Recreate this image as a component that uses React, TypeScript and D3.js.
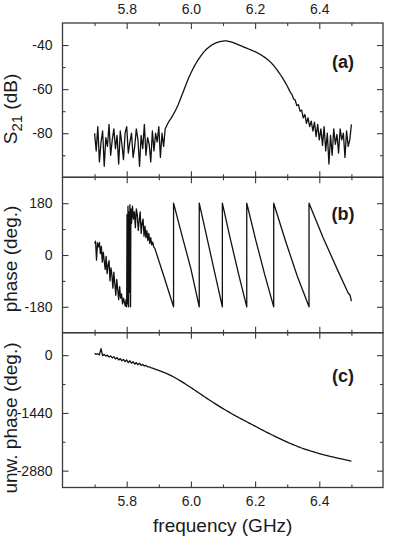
import { useRef, useEffect } from "react";
import * as d3 from "d3";

const width = 396;
const height = 540;
const FONT = "'Liberation Sans', Arial, Helvetica, sans-serif";
const INK = "#1a1a1a";
const FRAME = "#3a3a3a";

// panels (a) and (c) are sampled on a 5 MHz grid, 5.700 ... 6.500 GHz
const F_START = 5.7;
const F_STEP = 0.005;

// (a) S21 in dB
const s21 = [
  -80, -88, -77, -93, -84, -79, -95, -82, -86, -76,
  -90, -83, -78, -87, -81, -94, -79, -85, -92, -80,
  -77, -89, -84, -80, -91, -86, -78, -83, -95, -81,
  -87, -76, -90, -82, -85, -93, -79, -88, -80, -84,
  -77, -91, -80, -86, -78, -76.5, -75, -74, -72.8, -71.5,
  -70.2, -68.8, -67.2, -65.4, -63.5, -61.6, -59.7, -57.8, -56, -54.3,
  -52.7, -51.2, -49.8, -48.5, -47.3, -46.2, -45.1, -44.1, -43.2, -42.4,
  -41.7, -41.1, -40.5, -40, -39.6, -39.2, -38.9, -38.7, -38.5, -38.3,
  -38.2, -38.1, -38.1, -38.2, -38.4, -38.6, -38.8, -39.1, -39.4, -39.7,
  -40, -40.3, -40.6, -40.9, -41.2, -41.5, -41.8, -42.1, -42.4, -42.7,
  -43, -43.4, -43.8, -44.2, -44.6, -45.1, -45.6, -46.1, -46.7, -47.3,
  -48, -48.8, -49.7, -50.6, -51.6, -52.6, -53.7, -54.8, -56, -57.3,
  -58.6, -60, -61.5, -62.5, -64.5, -65, -67.5, -67, -70, -69.5,
  -73, -71.5, -75.5, -73, -77, -74.5, -79, -75, -81.5, -76,
  -83, -78, -85.5, -77, -88, -80, -94, -81, -90, -78,
  -85, -80.5, -89, -78, -83, -80, -91, -79, -86, -83,
  -76,
];

// (c) unwrapped phase in degrees
const unwrapped = [
  45, 20, 35, 5, 165, -10, 20, -25, 0, -45,
  -20, -70, -40, -95, -60, -120, -85, -140, -105, -160,
  -120, -185, -140, -200, -165, -225, -185, -240, -200, -255,
  -230, -270, -255, -290, -290, -310, -324, -338, -352, -366,
  -380, -396, -412, -428, -444, -460, -478, -497, -517, -538,
  -560, -583, -606, -630, -654, -679, -704, -730, -756, -782,
  -808, -834, -861, -888, -915, -942, -969, -996, -1023, -1050,
  -1077, -1104, -1130, -1156, -1182, -1208, -1233, -1258, -1283, -1308,
  -1332, -1356, -1380, -1403, -1426, -1449, -1472, -1494, -1516, -1538,
  -1560, -1582, -1603, -1624, -1645, -1666, -1687, -1708, -1729, -1750,
  -1771, -1792, -1813, -1834, -1855, -1876, -1897, -1918, -1938, -1958,
  -1978, -1998, -2018, -2038, -2057, -2076, -2095, -2114, -2132, -2150,
  -2168, -2186, -2203, -2220, -2237, -2253, -2269, -2285, -2300, -2315,
  -2329, -2343, -2357, -2370, -2383, -2396, -2408, -2420, -2432, -2443,
  -2454, -2465, -2476, -2486, -2496, -2506, -2516, -2526, -2535, -2544,
  -2553, -2562, -2571, -2580, -2589, -2598, -2607, -2616, -2625, -2634,
  -2645,
];

// (b) wrapped phase: noisy start, then the sawtooth
const phaseFreq = [
  5.700, 5.703, 5.706, 5.709, 5.712, 5.715, 5.718, 5.721, 5.724, 5.727,
  5.730, 5.733, 5.736, 5.739, 5.742, 5.745, 5.748, 5.751, 5.754, 5.757,
  5.760, 5.763, 5.766, 5.769, 5.772, 5.775, 5.778, 5.781, 5.784, 5.787,
  5.790, 5.793, 5.796, 5.798, 5.800, 5.801, 5.803, 5.804, 5.806, 5.807,
  5.809, 5.810, 5.812, 5.813, 5.815, 5.818, 5.821, 5.824, 5.827, 5.830,
  5.833, 5.836, 5.839, 5.842, 5.845, 5.848, 5.851, 5.854, 5.857, 5.860,
  5.863, 5.866, 5.869, 5.872, 5.875, 5.878, 5.881, 5.884, 5.888,
  5.917, 5.946, 5.946, 5.973, 6.000, 6.026, 6.026, 6.050, 6.074, 6.098,
  6.098, 6.123, 6.149, 6.174, 6.174, 6.202, 6.230, 6.258, 6.258, 6.295,
  6.331, 6.368, 6.368, 6.412, 6.456, 6.490, 6.496, 6.500,
];
const phaseDeg = [
  40, 48, -18, 42, 28, 44, 5, 30, -25, 10,
  -20, -50, -5, -65, -35, -20, -90, -45, -70, -115,
  -60, -100, -140, -85, -120, -155, -110, -150, -135, -170,
  -150, -165, -178, -155, -180, 140, -170, 170, -180, 150,
  -130, 175, -180, 160, 110, 170, 125, 150, 95, 160,
  140, 85, 120, 150, 75, 110, 125, 65, 100, 60,
  85, 50, 75, 40, 60, 35, 45, 28, 22,
  -78, -180, 180, 65, -48, -180, 180, 60, -60, -180,
  180, 55, -68, -180, 180, 52, -68, -180, 180, 48,
  -72, -180, 180, 60, -50, -132, -140, -160,
];

const freqMajor = [5.8, 6.0, 6.2, 6.4];
const freqMinor = [5.7, 5.9, 6.1, 6.3, 6.5];
const s21Major = [-40, -60, -80];
const s21Minor = [-50, -70, -90];
const phaseMajor = [180, 0, -180];
const phaseMinor = [90, -90];
const unwMajor = [0, -1440, -2880];
const unwMinor = [-720, -2160];

const gridFreq = s21.map((_, i) => F_START + i * F_STEP);

export default function App() {
  const ref = useRef<SVGSVGElement | null>(null);

  useEffect(() => {
    const svg = d3
      .select(ref.current)
      .attr("width", width)
      .attr("height", height)
      .attr("viewBox", `0 0 ${width} ${height}`);

    svg.selectAll("*").remove();

    const left = 62.5;
    const right = 383;
    const x = d3.scaleLinear().domain([5.6, 6.6]).range([left, 383.5]);

    const panels = [
      {
        top: 23, bottom: 177.3, domain: [-100, -30],
        major: s21Major, minor: s21Minor,
        pts: gridFreq.map((f, i) => [f, s21[i]]),
        tag: "(a)", tagY: 68,
        title: "S", sub: "21", rest: " (dB)", titleY: 109,
      },
      {
        top: 177.3, bottom: 332.7, domain: [-270, 270],
        major: phaseMajor, minor: phaseMinor,
        pts: phaseFreq.map((f, i) => [f, phaseDeg[i]]),
        tag: "(b)", tagY: 220,
        title: "phase (deg.)", titleY: 259,
      },
      {
        top: 332.7, bottom: 487.5, domain: [-3300, 560],
        major: unwMajor, minor: unwMinor,
        pts: gridFreq.map((f, i) => [f, unwrapped[i]]),
        tag: "(c)", tagY: 382,
        title: "unw. phase (deg.)", titleY: 418,
      },
    ];

    const styleAxis = (g: any) => {
      g.select(".domain").remove();
      g.selectAll(".tick line").attr("stroke", FRAME).attr("stroke-width", 1.1);
      g.selectAll(".tick text")
        .attr("fill", INK)
        .style("font-family", FONT)
        .style("font-size", "14px");
    };

    panels.forEach((p, k) => {
      const y = d3.scaleLinear().domain(p.domain).range([p.bottom, p.top]);
      const g = svg.append("g");

      // left axis with labels
      g.append("g")
        .attr("transform", `translate(${left},0)`)
        .call(d3.axisLeft(y).tickValues(p.major).tickSize(-6).tickPadding(10).tickFormat((d: any) => String(d)))
        .call(styleAxis);
      g.append("g")
        .attr("transform", `translate(${left},0)`)
        .call(d3.axisLeft(y).tickValues(p.minor).tickSize(-3).tickFormat(() => ""))
        .call(styleAxis);
      // right mirror
      g.append("g")
        .attr("transform", `translate(${right},0)`)
        .call(d3.axisRight(y).tickValues(p.major).tickSize(-6).tickFormat(() => ""))
        .call(styleAxis);
      g.append("g")
        .attr("transform", `translate(${right},0)`)
        .call(d3.axisRight(y).tickValues(p.minor).tickSize(-3).tickFormat(() => ""))
        .call(styleAxis);

      // top and bottom frequency ticks
      g.append("g")
        .attr("transform", `translate(0,${p.top})`)
        .call(
          d3.axisTop(x).tickValues(freqMajor).tickSize(-6).tickPadding(k === 0 ? 9.5 : 0)
            .tickFormat((d: any) => (k === 0 ? d3.format(".1f")(d) : ""))
        )
        .call(styleAxis);
      g.append("g")
        .attr("transform", `translate(0,${p.top})`)
        .call(d3.axisTop(x).tickValues(freqMinor).tickSize(-3).tickFormat(() => ""))
        .call(styleAxis);
      g.append("g")
        .attr("transform", `translate(0,${p.bottom})`)
        .call(
          d3.axisBottom(x).tickValues(freqMajor).tickSize(-6).tickPadding(k === 2 ? 9 : 0)
            .tickFormat((d: any) => (k === 2 ? d3.format(".1f")(d) : ""))
        )
        .call(styleAxis);
      g.append("g")
        .attr("transform", `translate(0,${p.bottom})`)
        .call(d3.axisBottom(x).tickValues(freqMinor).tickSize(-3).tickFormat(() => ""))
        .call(styleAxis);

      // frame
      g.append("rect")
        .attr("x", left)
        .attr("y", p.top)
        .attr("width", right - left)
        .attr("height", p.bottom - p.top)
        .attr("fill", "none")
        .attr("stroke", FRAME)
        .attr("stroke-width", 1.3);

      const line = d3
        .line<number[]>()
        .x((d) => x(d[0]))
        .y((d) => y(d[1]));

      g.append("path")
        .datum(p.pts)
        .attr("fill", "none")
        .attr("stroke", "#111")
        .attr("stroke-width", 1.3)
        .attr("stroke-linejoin", "round")
        .attr("d", line);

      g.append("text")
        .attr("x", 343)
        .attr("y", p.tagY)
        .attr("text-anchor", "middle")
        .attr("fill", INK)
        .style("font-family", FONT)
        .style("font-size", "18px")
        .style("font-weight", "bold")
        .text(p.tag);

      const t = g
        .append("text")
        .attr("transform", `translate(17,${p.titleY}) rotate(-90)`)
        .attr("text-anchor", "middle")
        .attr("fill", INK)
        .style("font-family", FONT)
        .style("font-size", "19px");
      if (p.sub) {
        t.append("tspan").text(p.title);
        t.append("tspan").attr("dy", 5).style("font-size", "15px").text(p.sub);
        t.append("tspan").attr("dy", -5).text(p.rest);
      } else {
        t.text(p.title);
      }
    });

    svg
      .append("text")
      .attr("x", (left + right) / 2)
      .attr("y", 532)
      .attr("text-anchor", "middle")
      .attr("fill", INK)
      .style("font-family", FONT)
      .style("font-size", "19px")
      .text("frequency (GHz)");
  }, []);

  return (
    <svg
      ref={ref}
      style={{ position: "absolute", left: 0, top: 0, background: "#fff" }}
    />
  );
}
